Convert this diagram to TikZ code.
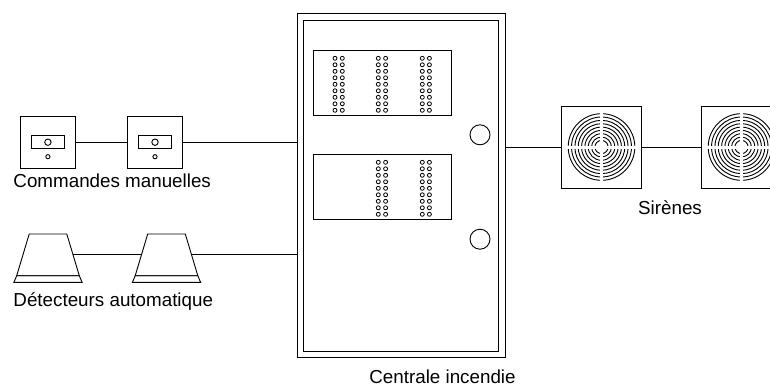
\documentclass[tikz,border=0pt]{standalone}
\usepackage{fontspec}
\setmainfont{Liberation Sans}

\tikzset{
  unit box/.style={rectangle,draw,inner sep=0pt,minimum width=#1},
  cabinet/.style={unit box=207.7,minimum height=344.4},
  panel/.style={unit box=138.4,minimum height=65.7},
  keypad/.style={unit box=55,minimum height=52.3},
  slot/.style={unit box=32.7,minimum height=13},
  siren/.style={unit box=80.4,minimum height=81.3},
  lamp/.style={circle,draw,inner sep=0pt,minimum size=20},
  label/.style={inner sep=0pt,anchor=base,font=\fontsize{18.8}{22}\selectfont}
}

\begin{document}
\begin{tikzpicture}[x=1pt,y=-1pt,line width=0.9pt,line join=miter]
  \clip (0,0) rectangle (770,385);
  % central unit
  \node[cabinet] (cab) at (401.15,185.5) {};
  \node[unit box=195,minimum height=330.7] (inner) at (401.2,185.65) {};
  \node[panel] (p1) at (382.5,82.85) {};
  \node[panel] (p2) at (382.5,186.85) {};
  \node[lamp] (l1) at (480,134.8) {};
  \node[lamp] (l2) at (480,239.2) {};
  \foreach \x in {335,342.3,378.3,385.6,422.3,429.4}
    \foreach \i in {0,...,8}
      \draw[line width=0.8pt] (\x,58.3+6.5*\i) circle (2);
  \foreach \x in {378.3,385.6,422.3,429.4}
    \foreach \i in {0,...,8}
      \draw[line width=0.8pt] (\x,162.3+6.5*\i) circle (2);
  % manual call points
  \foreach \n/\x in {m1/47.7,m2/154.8} {
    \node[keypad] (\n) at (\x,142.2) {};
    \node[slot] (\n s) at (\x+0.2,142.2) {};
    \node[circle,draw,inner sep=0pt,minimum size=6.4] (\n a) at (\x+0.2,142.2) {};
    \node[circle,draw,inner sep=0pt,minimum size=4.2] (\n b) at (\x+0.2,156.7) {};
  }
  % detectors
  \foreach \n/\x in {d1/48,d2/166.5} {
    \draw (\x-18.8,234) -- (\x+18.8,234) -- (\x+31.3,275.7) -- (\x-31.3,275.7) -- cycle;
    \draw (\x-31.3,275.7) -- (\x+31.3,275.7) -- (\x+34.1,282.3) -- (\x-34.1,282.3) -- cycle;
    \coordinate (\n l) at (\x-25,254.7);
    \coordinate (\n r) at (\x+25,254.7);
  }
  % sirens
  \foreach \n/\x in {s1/601.5,s2/741.5} {
    \node[siren] (\n) at (\x,147.3) {};
    \foreach \r in {6.6,9.94,...,33.4}
      \draw (\x,147) circle (\r);
    \draw[white,line width=2.8pt] (\x-35,147.6) -- (\x+35,147.6);
    \draw[white,line width=2.8pt] (\x+0.2,112) -- (\x+0.2,182);
  }
  % wiring
  \draw (m1.east) -- (m2.west);
  \draw (m2.east) -- (cab.west |- m2);
  \draw (d1r) -- (d2l);
  \draw (d2r) -- (cab.west |- d2r);
  \draw (cab.east |- s1) -- (s1.west);
  \draw (s1.east) -- (s2.west);
  % labels
  \node[label,anchor=base west] (t1) at (13,187.3) {Commandes manuelles};
  \node[label,anchor=base west] (t2) at (13,306.7) {Détecteurs automatique};
  \node[label] (t3) at (670,214.3) {Sirènes};
  \node[label] (t4) at (442.5,383.2) {Centrale incendie};
\end{tikzpicture}
\end{document}
